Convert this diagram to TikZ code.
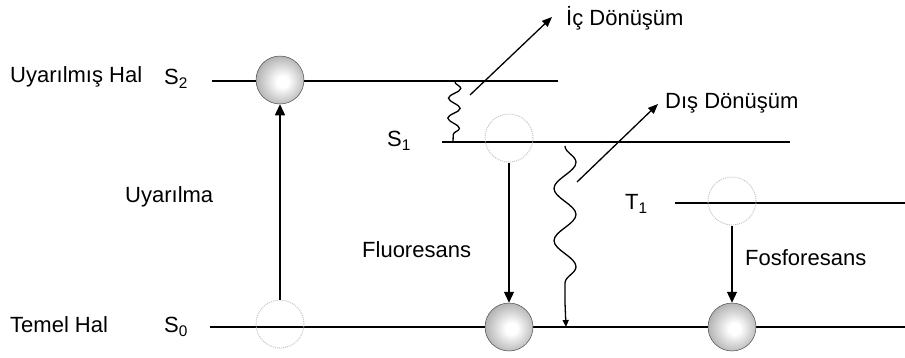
\documentclass[tikz,border=0pt]{standalone}
\usepackage{fontspec}
\setmainfont{Liberation Sans}
\usetikzlibrary{arrows.meta}
\usetikzlibrary{decorations.pathmorphing}

\pgfdeclareradialshading{sphere}{\pgfpoint{3bp}{-2bp}}{%
  color(0bp)=(white); color(6bp)=(white); color(30bp)=(gray!70);
  color(50bp)=(black!70)}

\tikzset{
  level/.style={line width=1.3pt},
  ball/.style={circle, minimum size=48pt, inner sep=0pt, shading=sphere,
    draw=gray!60!black, line width=0.5pt},
  hole/.style={circle, minimum size=48pt, inner sep=0pt, draw=gray!45,
    densely dotted, line width=1pt},
  lbl/.style={font=\fontsize{22}{26}\selectfont, inner sep=0pt, anchor=west},
  jump/.style={line width=1.3pt, -{Triangle[length=11pt,width=10pt]}},
  leak/.style={line width=1.3pt, -{Triangle[length=10pt,width=8pt]}},
  wavy/.style={line width=1.3pt, decorate,
    decoration={snake, segment length=#1, amplitude=6pt}},
}

\begin{document}
\begin{tikzpicture}[x=1pt, y=-1pt]
\useasboundingbox (0,0) rectangle (905,357);

%---------------------------------------
% Energy levels
%---------------------------------------
\draw[level] (212,81) -- (558,81);   % S2
\draw[level] (442,142) -- (790,142); % S1
\draw[level] (675,203) -- (905,203); % T1
\draw[level] (210,327) -- (905,327); % S0

% level names
\node[lbl] (uhal) at (10,77) {Uyarılmış Hal};
\node[lbl] (s2) at (164,79) {S\textsubscript{2}};
\node[lbl] (s1) at (387,141) {S\textsubscript{1}};
\node[lbl] (t1) at (625,204) {T\textsubscript{1}};
\node[lbl] (thal) at (10,325) {Temel Hal};
\node[lbl] (s0) at (164,327) {S\textsubscript{0}};

%---------------------------------------
% Electrons
%---------------------------------------
\node[ball] (b2) at (280,80) {};
\node[hole] (h0) at (280,324) {};
\node[hole] (h1) at (509,138) {};
\node[ball] (b0) at (509,327) {};
\node[hole] (ht) at (732,201) {};
\node[ball] (bt) at (732,327) {};

%---------------------------------------
% Transitions
%---------------------------------------
\draw[jump] (h0) -- (b2);
\draw[jump] (h1) -- (b0);
\draw[jump] (ht) -- (bt);

\node[lbl] (uyar) at (125,197) {Uyarılma};
\node[lbl] (fluo) at (362,250) {Fluoresans};
\node[lbl] (fosf) at (745,258) {Fosforesans};

% internal conversion S2 -> S1
\coordinate (w1) at (455,82);
\coordinate (w2) at (453,142);
\draw[wavy=20pt] (w1) -- (w2);
\coordinate (a1) at (470,95);
\coordinate (a2) at (552,17);
\draw[leak] (a1) -- (a2);
\node[lbl] (ic) at (566,18) {İç Dönüşüm};

% external conversion S1 -> S0
\coordinate (v1) at (565,146);
\coordinate (v2) at (565,303);
\coordinate (v3) at (566,327);
\draw[wavy=52.2pt, decoration={amplitude=11pt}] (v1) -- (v2);
\draw[line width=1.3pt, -{Triangle[length=7pt,width=6pt]}] (v2) -- (v3);
\coordinate (a3) at (577,182);
\coordinate (a4) at (658,104);
\draw[leak] (a3) -- (a4);
\node[lbl] (dis) at (665,103) {Dış Dönüşüm};

\end{tikzpicture}
\end{document}
